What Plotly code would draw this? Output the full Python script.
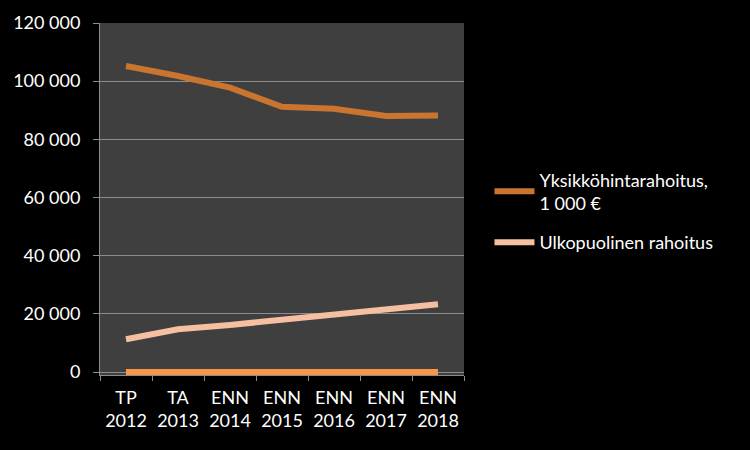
import plotly.graph_objects as go

categories = ["TP<br>2012", "TA<br>2013", "ENN<br>2014", "ENN<br>2015", "ENN<br>2016", "ENN<br>2017", "ENN<br>2018"]
yksikko = [105200, 101800, 97800, 91200, 90500, 88000, 88200]
ulkopuolinen = [11300, 14700, 16200, 17900, 19600, 21600, 23300]
zero_series = [0, 0, 0, 0, 0, 0, 0]
y_ticks = [0, 20000, 40000, 60000, 80000, 100000, 120000]
y_labels = ["0", "20 000", "40 000", "60 000", "80 000", "100 000", "120 000"]

font = "Lato, 'Open Sans', sans-serif"

fig = go.Figure()
fig.add_trace(go.Scatter(x=categories, y=zero_series, mode="lines", showlegend=False,
                         legendgroup="z",
                         line=dict(color="#f79646", width=6), hoverinfo="skip"))
fig.add_trace(go.Scatter(x=categories, y=yksikko, mode="lines",
                         name="Yksikköhintarahoitus,<br>1 000 €", legendgroup="a",
                         line=dict(color="#c97530", width=6)))
fig.add_trace(go.Scatter(x=categories, y=ulkopuolinen, mode="lines",
                         name="Ulkopuolinen rahoitus", legendgroup="b",
                         line=dict(color="#f6bfa2", width=6)))

fig.update_layout(
    width=750, height=450,
    paper_bgcolor="#000000", plot_bgcolor="#3f3f3f",
    margin=dict(l=100, r=286, t=23, b=75),
    font=dict(family=font, size=18, color="#ffffff"),
    legend=dict(x=1.07, y=0.607, xanchor="left", yanchor="top",
                bgcolor="rgba(0,0,0,0)", font=dict(size=18, color="#ffffff"),
                traceorder="grouped", tracegroupgap=13, itemwidth=40),
    xaxis=dict(range=[-0.5, 6.5], showgrid=False, showline=True, linecolor="#8c8c8c", linewidth=1,
               ticks="outside", tickson="boundaries", ticklen=5, tickcolor="#8c8c8c",
               ticklabelstandoff=6,
               tickfont=dict(size=18, color="#ffffff"), zeroline=False),
    yaxis=dict(range=[-1000, 120000], tickvals=y_ticks, ticktext=y_labels,
               showgrid=True, gridcolor="#8c8c8c", gridwidth=1,
               showline=True, linecolor="#8c8c8c", linewidth=1,
               ticks="outside", ticklen=6, tickcolor="#8c8c8c",
               ticklabelstandoff=9,
               tickfont=dict(size=18, color="#ffffff"), zeroline=False),
)

fig.write_html("out.html", config={"displayModeBar": False},
               post_script="document.body.style.margin='0';")
